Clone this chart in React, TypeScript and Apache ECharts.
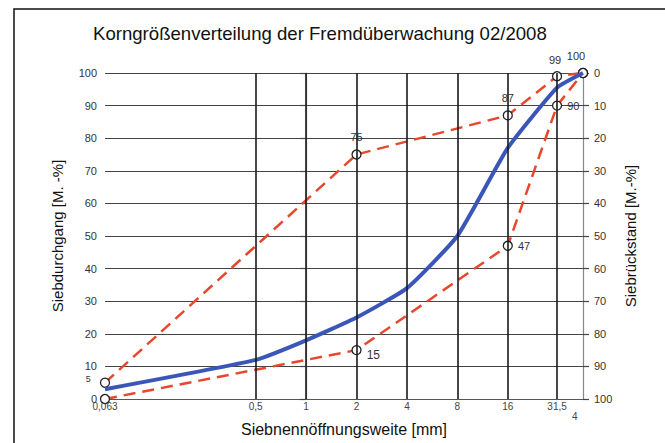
import React, { useEffect, useRef } from "react";
import * as echarts from "echarts";

const sieves = [0.063, 0.5, 1, 2, 4, 8, 16, 31.5, 45];
const sieveLabels = ["0,063", "0,5", "1", "2", "4", "8", "16", "31,5"];
const measured = [3, 12, 18, 25, 34, 50, 77, 95.5, 100];
const limitSieves = [0.063, 2, 16, 31.5, 45];
const upperLimit = [5, 75, 87, 99, 100];
const lowerLimit = [0, 15, 47, 90, 100];
const yTicks = [0, 10, 20, 30, 40, 50, 60, 70, 80, 90, 100];

const FONT = "Liberation Sans, Arial, sans-serif";
const lx = (v: number) => Math.log2(v);

export default function App() {
  const ref = useRef<HTMLDivElement>(null);
  useEffect(() => {
    document.body.style.margin = "0";
    const chart = echarts.init(ref.current!, null, { renderer: "svg" });
    const labelStyle = { fontFamily: FONT, fontSize: 11, color: "#333" };
    const upperLabelCfg: any[] = [
      { show: true, position: "left", offset: [-4, -4], fontSize: 9 },
      { show: true, position: "top", offset: [0, -2] },
      { show: true, position: "top", offset: [0, -2] },
      { show: true, position: "top", offset: [-2, -1] },
      { show: true, position: "top", offset: [-7, -1] },
    ];
    const lowerLabelCfg: any[] = [
      { show: false },
      { show: true, position: "right", offset: [0, 5], fontSize: 12 },
      { show: true, position: "right", offset: [0, 0] },
      { show: true, position: "right", offset: [0, 0] },
      { show: false },
    ];
    const markerStyle = { color: "#fff", borderColor: "#222", borderWidth: 1.3 };
    const redLine = { color: "#e8472b", width: 2.5, type: [12, 7] as any };
    chart.setOption({
      animation: false,
      title: {
        text: "Korngrößenverteilung der Fremdüberwachung 02/2008",
        left: 88,
        top: 19,
        textStyle: { fontFamily: FONT, fontSize: 18.6, fontWeight: "normal", color: "#111" },
      },
      grid: { left: 105, right: 82, top: 73, bottom: 44 },
      xAxis: {
        type: "value",
        min: lx(sieves[0]),
        max: lx(sieves[sieves.length - 1]),
        name: "Siebnennöffnungsweite [mm]",
        nameLocation: "middle",
        nameGap: 22,
        nameTextStyle: { fontFamily: FONT, fontSize: 16, color: "#111" },
        axisLine: { show: true, lineStyle: { color: "#555", width: 1.2 } },
        axisTick: { show: false },
        splitLine: { show: false },
        axisLabel: {
          customValues: sieveLabels.map((_, i) => lx(sieves[i])),
          formatter: (v: number) => {
            let best = 0;
            sieveLabels.forEach((_, i) => {
              if (Math.abs(lx(sieves[i]) - v) < Math.abs(lx(sieves[best]) - v)) best = i;
            });
            return sieveLabels[best];
          },
          fontFamily: FONT,
          fontSize: 10,
          color: "#444",
          margin: 2,
        },
      },
      yAxis: [
        {
          type: "value",
          min: 0,
          max: 100,
          interval: 10,
          position: "left",
          name: "Siebdurchgang [M. -%]",
          nameLocation: "middle",
          nameGap: 40,
          nameRotate: 90,
          nameTextStyle: { fontFamily: FONT, fontSize: 15, color: "#111" },
          axisLine: { show: true, lineStyle: { color: "#888", width: 1.2 } },
          axisTick: { show: true, length: 6, lineStyle: { color: "#444", width: 1.2 } },
          splitLine: { show: true, lineStyle: { color: "#444", width: 1.2 } },
          axisLabel: { fontFamily: FONT, fontSize: 11, color: "#333", margin: 8, customValues: yTicks },
        },
        {
          type: "value",
          min: 0,
          max: 100,
          interval: 10,
          inverse: true,
          position: "right",
          name: "Siebrückstand [M.-%]",
          nameLocation: "middle",
          nameGap: 36,
          nameRotate: 90,
          nameTextStyle: { fontFamily: FONT, fontSize: 15, color: "#111" },
          axisLine: { show: true, lineStyle: { color: "#888", width: 1.2 } },
          axisTick: { show: true, length: 6, lineStyle: { color: "#444", width: 1.2 } },
          splitLine: { show: false },
          axisLabel: { fontFamily: FONT, fontSize: 11, color: "#333", margin: 11 },
        },
      ],
      graphic: [
        {
          type: "rect",
          shape: { x: 14, y: 9, width: 720, height: 480 },
          style: { fill: "none", stroke: "#111", lineWidth: 1.5 },
          silent: true,
        },
        {
          type: "text",
          x: 572,
          y: 411,
          style: { text: "4", fontFamily: FONT, fontSize: 10, fill: "#444" },
        },
      ],
      series: [
        {
          type: "line",
          z: 1,
          data: [[lx(sieves[0]), 0]],
          symbol: "none",
          lineStyle: { width: 0 },
          silent: true,
          markLine: {
            silent: true,
            symbol: "none",
            label: { show: false },
            lineStyle: { color: "#1a1a1a", width: 1.6, type: "solid" },
            data: sieves.slice(1, 8).map((s) => ({ xAxis: lx(s) })),
          },
        },
        {
          type: "line",
          z: 3,
          data: limitSieves.map((s, i) => ({
            value: [lx(s), upperLimit[i]],
            label: { ...labelStyle, ...upperLabelCfg[i], formatter: String(upperLimit[i]) },
          })),
          symbol: "circle",
          symbolSize: 9,
          itemStyle: markerStyle,
          lineStyle: redLine,
        },
        {
          type: "line",
          z: 3,
          data: limitSieves.map((s, i) => ({
            value: [lx(s), lowerLimit[i]],
            label: { ...labelStyle, ...lowerLabelCfg[i], formatter: String(lowerLimit[i]) },
          })),
          symbol: "circle",
          symbolSize: 9,
          itemStyle: markerStyle,
          lineStyle: redLine,
        },
        {
          type: "line",
          z: 4,
          data: sieves.map((s, i) => [lx(s), measured[i]]),
          symbol: "none",
          smooth: 0.15,
          lineStyle: { color: "#3a56b8", width: 4 },
        },
      ],
    });
    return () => chart.dispose();
  }, []);
  return <div ref={ref} style={{ width: 665, height: 443 }} />;
}
